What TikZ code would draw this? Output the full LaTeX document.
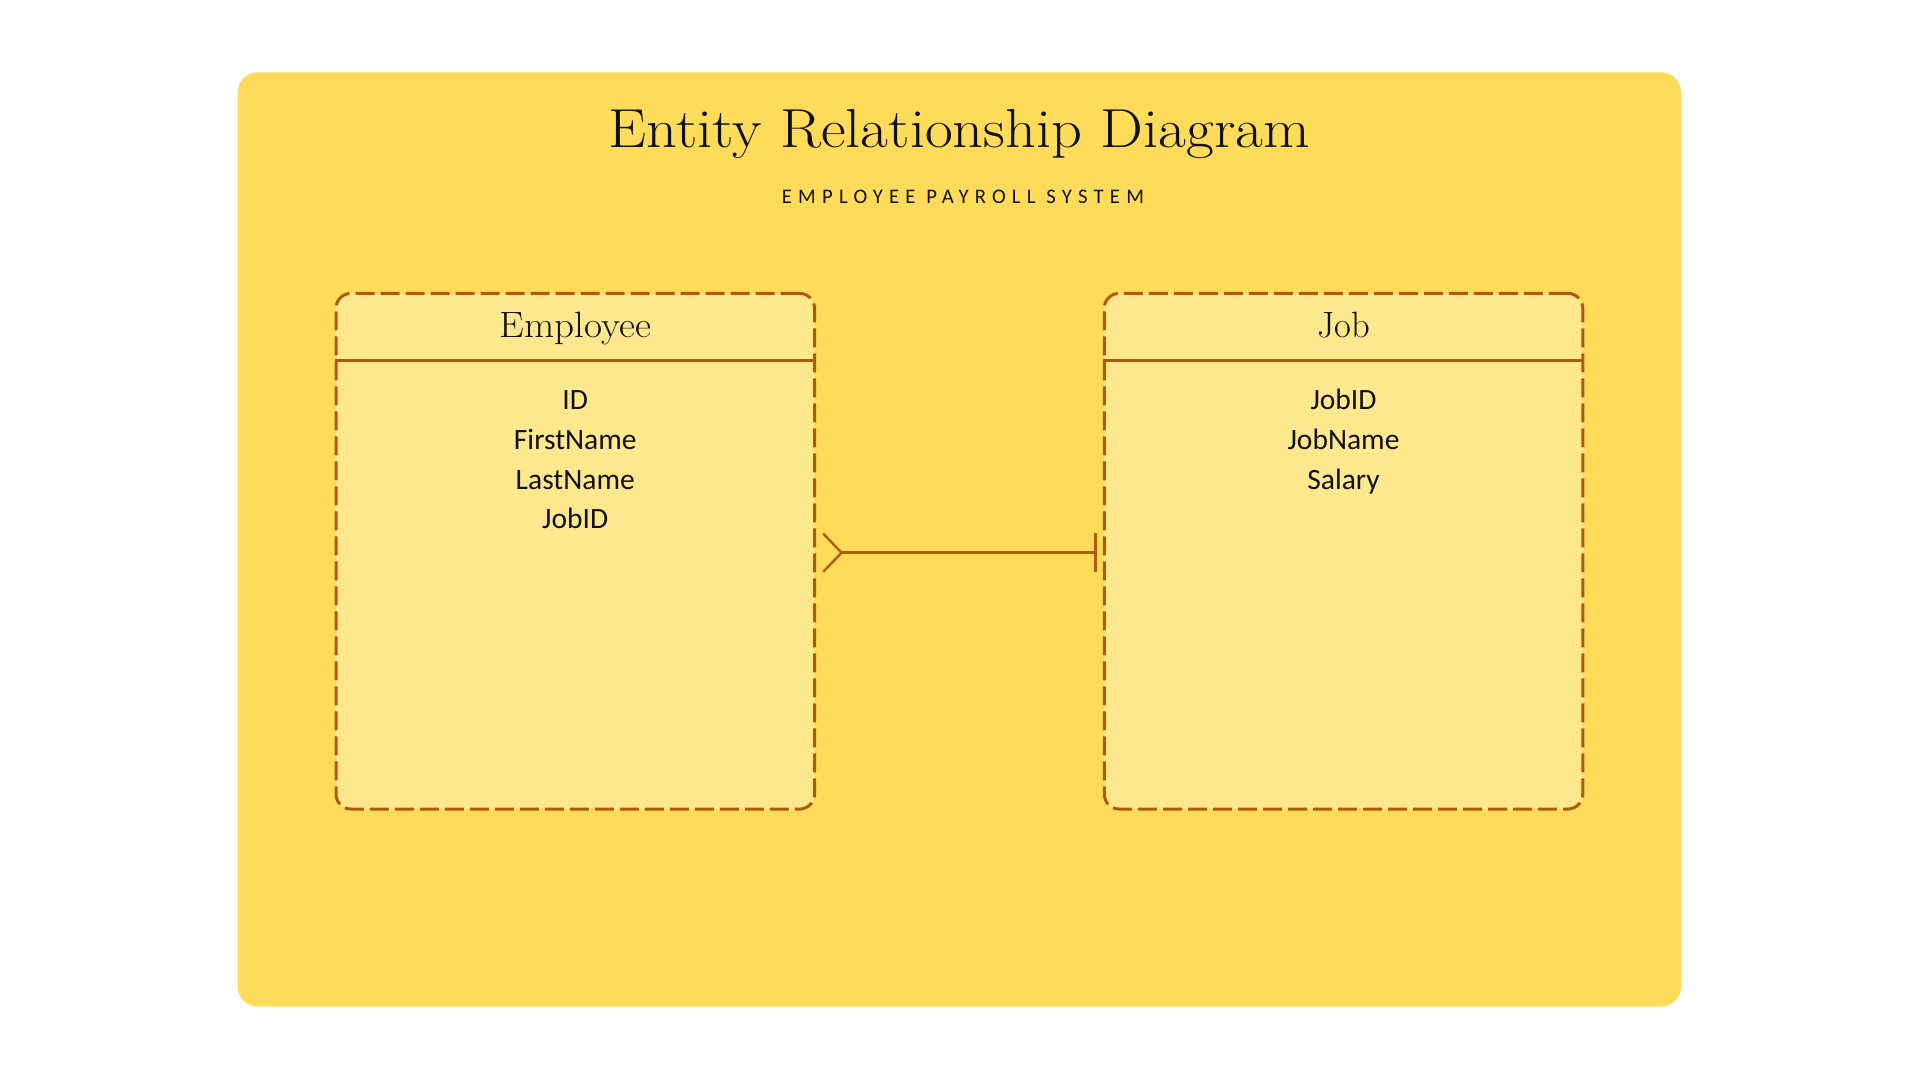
\documentclass[tikz,border=0pt]{standalone}
\usepackage{fontspec}
\usepackage{graphicx}
\usepackage{tikz}
\usetikzlibrary{calc}
\newfontfamily\attrfont{Carlito}
\newfontfamily\subfont[LetterSpace=30]{Carlito}
\definecolor{panel}{HTML}{FEDC59}
\definecolor{boxfill}{HTML}{FEE88D}
\definecolor{edge}{HTML}{B35A0A}
\definecolor{ink}{HTML}{111111}
\begin{document}
\begin{tikzpicture}[x=0.5pt,y=-0.5pt,
  entity/.style={draw=edge, fill=boxfill, line width=1.5pt,
    dash pattern=on 9.5pt off 3pt, rounded corners=7.5pt, inner sep=0pt,
    minimum width=239.25pt, minimum height=257.85pt},
  divider/.style={draw=edge, line width=1.5pt},
  header/.style={anchor=base, text=ink, font=\fontsize{18.3}{22}\selectfont},
  attr/.style={anchor=base, text=ink, font=\attrfont\fontsize{14.75}{18}\selectfont},
  relline/.style={draw=edge, line width=1.5pt},
  crowfoot/.style={draw=edge, line width=1.2pt}]
\useasboundingbox[fill=white] (0,0) rectangle (1920,1080);
% background panel
\fill[panel, rounded corners=10pt] (237.7,72.3) rectangle (1681,1006.6);

% headings
\node[anchor=base, text=ink, font=\fontsize{27.5}{32}\selectfont] (title) at (959.4,147.3) {\scalebox{1.1}[1]{Entity Relationship Diagram}};
\node[anchor=base, text=ink, font=\subfont\fontsize{10.35}{12}\selectfont] (subtitle) at (963,204) {EMPLOYEE PAYROLL SYSTEM};

% entities
\node[entity] (emp) at (575.25,551.2) {};
\node[entity] (job) at (1343.5,551.2) {};
\draw[divider] ($(emp.north west)+(0,68.4)$) -- ($(emp.north east)+(0,68.4)$);
\draw[divider] ($(job.north west)+(0,68.4)$) -- ($(job.north east)+(0,68.4)$);

\node[header] (empH) at (575.25,338) {\scalebox{1.07}[1]{Employee}};
\node[header] (jobH) at (1343.5,338) {Job};

\node[attr] (empA1) at (575.25,409) {ID};
\node[attr] (empA2) at (575.25,449) {FirstName};
\node[attr] (empA3) at (575.25,489) {LastName};
\node[attr] (empA4) at (575.25,528.5) {JobID};

\node[attr] (jobA1) at (1343.5,409) {JobID};
\node[attr] (jobA2) at (1343.5,449) {JobName};
\node[attr] (jobA3) at (1343.5,489) {Salary};

% relationship: many employees to one job
\coordinate (crowApex) at ($(emp.east)+(25.5,1.5)$);
\coordinate (oneBar) at ($(job.west)+(-7.6,1.5)$);
\draw[relline] (crowApex) -- (oneBar);
\draw[crowfoot] ($(emp.east)+(7.2,-17.7)$) -- (crowApex) -- ($(emp.east)+(7.2,20.7)$);
\draw[relline] ($(oneBar)+(0,-19.5)$) -- ($(oneBar)+(0,19.5)$);
\end{tikzpicture}
\end{document}
